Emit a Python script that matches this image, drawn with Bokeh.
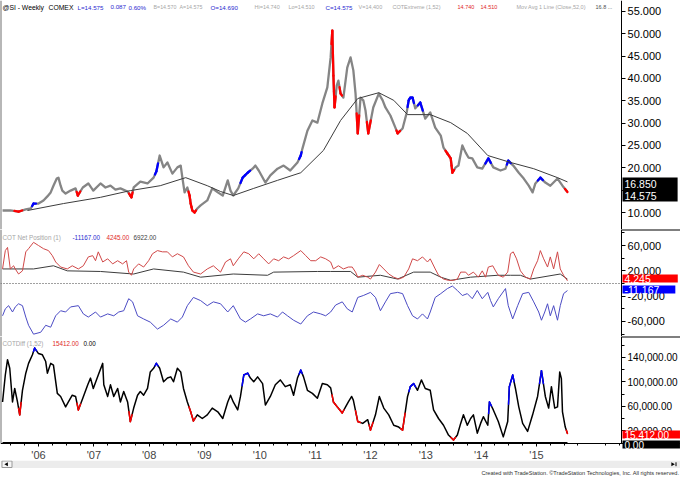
import math
from bokeh.plotting import figure
from bokeh.layouts import column
from bokeh.models import Range1d, FixedTicker, NumeralTickFormatter, Label, Span, LinearAxis
from bokeh.embed import file_html
from bokeh.resources import INLINE
from bokeh.core.properties import value

FONT = "Liberation Sans"

# ---------------- data (weekly @SI, decimal years) ----------------
price_t = [2005.35, 2005.49, 2005.64, 2005.77, 2005.86, 2005.91, 2006.00, 2006.09, 2006.16, 2006.22,
           2006.27, 2006.33, 2006.36, 2006.40, 2006.43, 2006.49, 2006.58, 2006.67, 2006.71, 2006.80,
           2006.90, 2006.99, 2007.12, 2007.21, 2007.30, 2007.39, 2007.48, 2007.61, 2007.66, 2007.68,
           2007.72, 2007.84, 2007.97, 2008.08, 2008.13, 2008.19, 2008.26, 2008.33, 2008.42, 2008.51,
           2008.57, 2008.60, 2008.64, 2008.69, 2008.73, 2008.75, 2008.78, 2008.82, 2008.87, 2008.93,
           2009.05, 2009.14, 2009.24, 2009.33, 2009.42, 2009.47, 2009.52, 2009.61, 2009.69, 2009.78,
           2009.87, 2009.92, 2009.98, 2010.10, 2010.19, 2010.32, 2010.43, 2010.55, 2010.68, 2010.74,
           2010.77, 2010.86, 2010.95, 2011.04, 2011.13, 2011.22, 2011.28, 2011.31, 2011.33, 2011.35,
           2011.39, 2011.42, 2011.46, 2011.51, 2011.58, 2011.64, 2011.69, 2011.73, 2011.77, 2011.82,
           2011.87, 2011.91, 2011.96, 2012.05, 2012.15, 2012.22, 2012.27, 2012.36, 2012.45, 2012.49,
           2012.58, 2012.65, 2012.69, 2012.72, 2012.76, 2012.81, 2012.90, 2012.99, 2013.08, 2013.17,
           2013.27, 2013.32, 2013.39, 2013.45, 2013.48, 2013.54, 2013.59, 2013.66, 2013.72, 2013.77,
           2013.84, 2013.93, 2014.02, 2014.13, 2014.22, 2014.35, 2014.44, 2014.49, 2014.58, 2014.68,
           2014.77, 2014.86, 2014.93, 2014.98, 2015.07, 2015.16, 2015.25, 2015.38, 2015.47, 2015.56]
price_close = [10.45, 10.5, 10.2, 10.7, 10.9, 12.0, 12.0, 12.7, 13.6, 14.5,
               16.0, 17.6, 17.8, 16.0, 14.9, 14.25, 14.9, 15.4, 13.8, 15.6,
               16.5, 14.9, 16.5, 15.6, 16.0, 15.1, 15.4, 14.7, 13.8, 13.4,
               15.6, 16.9, 16.5, 17.8, 19.2, 22.75, 20.1, 21.2, 18.7, 20.1,
               20.5, 17.8, 14.5, 15.6, 13.8, 12.0, 10.45, 10.0, 10.9, 11.6,
               12.7, 15.4, 14.5, 13.8, 17.2, 14.9, 13.8, 15.4, 17.8, 18.9,
               19.8, 20.5, 19.4, 16.7, 18.3, 19.8, 20.5, 19.4, 21.2, 22.75,
               24.3, 28.3, 30.6, 30.1, 34.4, 38.0, 44.7, 50.7, 40.6, 33.5,
               38.4, 39.5, 36.6, 35.7, 42.4, 44.7, 41.8, 36.6, 27.7, 35.7,
               35.1, 32.8, 27.7, 33.5, 36.6, 35.1, 33.5, 31.7, 29.0, 27.7,
               28.8, 32.1, 35.1, 35.7, 35.7, 33.3, 34.6, 31.0, 32.4, 29.0,
               27.2, 24.5, 23.2, 22.1, 18.9, 20.1, 20.5, 25.0, 23.4, 22.3,
               22.1, 20.1, 19.8, 22.1, 20.1, 19.4, 19.8, 21.6, 20.5, 18.9,
               17.6, 16.0, 14.5, 16.5, 17.8, 16.7, 16.0, 17.6, 16.0, 14.575]
# COTExtreme bar paint: g = none, r = red, b = blue
price_flag = ("ggrggb" "gggggggggggg" "r" "ggggggggg" "rr" "gggg" "b" "ggggggggg" "rrrr"
              "gggggggggg" "bb" "ggggggggg" "b" "ggggggg" "rrr" "gg" "r" "ggggg" "r" "ggg" "r"
              "gggggg" "r" "gg" "bbb" "g" "b" "ggggg" "rrr" "gggggggg" "b" "ggg" "b" "gggggg" "b"
              "gggg" "r")

ma_t = [2005.80, 2006.45, 2007.12, 2007.66, 2008.20, 2008.66, 2009.05, 2009.29, 2009.52, 2009.89,
        2010.32, 2010.74, 2011.15, 2011.46, 2011.77, 2012.15, 2012.42, 2012.67, 2013.08, 2013.45,
        2013.75, 2014.12, 2014.53, 2014.95, 2015.38, 2015.56]
ma_val = [10.45, 12.0, 13.4, 14.9, 16.0, 17.8, 16.0, 14.7, 13.8, 15.4,
          17.2, 18.9, 23.9, 30.6, 35.5, 36.8, 35.1, 31.9, 31.9, 30.1,
          27.7, 22.75, 21.2, 19.8, 17.8, 16.85]

net_red_t = [2005.35, 2005.40, 2005.44, 2005.49, 2005.55, 2005.58, 2005.64, 2005.71, 2005.77, 2005.82,
             2005.91, 2006.00, 2006.09, 2006.18, 2006.25, 2006.31, 2006.40, 2006.52, 2006.61, 2006.72,
             2006.81, 2006.90, 2006.98, 2007.03, 2007.08, 2007.16, 2007.25, 2007.34, 2007.43, 2007.52,
             2007.59, 2007.63, 2007.68, 2007.72, 2007.81, 2007.90, 2007.99, 2008.06, 2008.15, 2008.24,
             2008.33, 2008.42, 2008.51, 2008.62, 2008.71, 2008.80, 2008.93, 2009.05, 2009.16, 2009.29,
             2009.38, 2009.47, 2009.52, 2009.61, 2009.71, 2009.80, 2009.89, 2009.98, 2010.07, 2010.16,
             2010.25, 2010.34, 2010.43, 2010.52, 2010.61, 2010.74, 2010.83, 2010.92, 2011.01, 2011.10,
             2011.19, 2011.28, 2011.33, 2011.42, 2011.51, 2011.60, 2011.67, 2011.73, 2011.77, 2011.86,
             2011.95, 2012.00, 2012.09, 2012.16, 2012.24, 2012.33, 2012.42, 2012.51, 2012.60, 2012.69,
             2012.76, 2012.85, 2012.94, 2013.03, 2013.08, 2013.17, 2013.23, 2013.32, 2013.41, 2013.50,
             2013.57, 2013.63, 2013.72, 2013.77, 2013.86, 2013.95, 2014.02, 2014.08, 2014.13, 2014.21,
             2014.26, 2014.31, 2014.40, 2014.48, 2014.53, 2014.58, 2014.64, 2014.71, 2014.80, 2014.89,
             2014.95, 2015.02, 2015.07, 2015.13, 2015.20, 2015.25, 2015.31, 2015.38, 2015.43, 2015.49,
             2015.56]
net_red = [23000, 52000, 57000, 23000, 28000, 23000, 15000, 20000, 50000, 55000,
           65000, 60000, 55000, 52000, 44000, 34000, 26000, 23000, 28000, 23000,
           28000, 42000, 44000, 36000, 50000, 34000, 39000, 31000, 36000, 31000,
           36000, 18000, 13000, 23000, 31000, 26000, 36000, 47000, 52000, 50000,
           50000, 42000, 47000, 42000, 28000, 18000, 15000, 23000, 28000, 18000,
           34000, 39000, 28000, 39000, 50000, 47000, 39000, 47000, 39000, 31000,
           39000, 36000, 42000, 39000, 44000, 52000, 44000, 36000, 36000, 42000,
           39000, 34000, 23000, 28000, 23000, 26000, 26000, 18000, 10000, 13000,
           10000, 7000, 18000, 30000, 23000, 15000, 10000, 7000, 10000, 23000,
           39000, 36000, 42000, 34000, 39000, 23000, 13000, 7000, 5000, 5000,
           7000, 18000, 18000, 13000, 18000, 10000, 20000, 10000, 26000, 28000,
           20000, 13000, 10000, 18000, 47000, 50000, 39000, 20000, 10000, 7000,
           23000, 36000, 52000, 39000, 26000, 42000, 23000, 50000, 23000, 13000,
           4245]

net_black_t = [2005.35, 2005.91, 2006.27, 2006.52, 2007.12, 2007.72, 2008.08, 2008.62, 2008.93, 2009.52,
               2010.14, 2010.25, 2011.04, 2011.28, 2011.64, 2011.77, 2012.18, 2012.49, 2012.78, 2013.08,
               2013.27, 2013.45, 2013.81, 2014.30, 2014.53, 2014.71, 2014.89, 2015.43, 2015.56]
net_black = [23000, 23000, 28000, 20000, 19000, 15000, 23000, 18000, 10000, 15000,
             13000, 18000, 19000, 19000, 19000, 10000, 13000, 7000, 18000, 18000,
             10000, 5000, 10000, 13000, 13000, 13000, 7000, 15000, 6922]

net_blue_t = [2005.35, 2005.40, 2005.46, 2005.53, 2005.58, 2005.64, 2005.71, 2005.77, 2005.82, 2005.91,
              2006.04, 2006.13, 2006.22, 2006.31, 2006.40, 2006.49, 2006.58, 2006.72, 2006.81, 2006.90,
              2007.03, 2007.12, 2007.25, 2007.36, 2007.45, 2007.54, 2007.63, 2007.70, 2007.79, 2007.90,
              2008.02, 2008.15, 2008.26, 2008.39, 2008.51, 2008.60, 2008.69, 2008.80, 2008.93, 2009.05,
              2009.16, 2009.29, 2009.42, 2009.52, 2009.65, 2009.74, 2009.83, 2009.96, 2010.07, 2010.19,
              2010.32, 2010.41, 2010.50, 2010.61, 2010.74, 2010.86, 2010.97, 2011.10, 2011.19, 2011.28,
              2011.37, 2011.49, 2011.58, 2011.67, 2011.77, 2011.87, 2012.00, 2012.09, 2012.18, 2012.27,
              2012.36, 2012.49, 2012.58, 2012.67, 2012.76, 2012.85, 2012.94, 2013.03, 2013.08, 2013.17,
              2013.27, 2013.39, 2013.48, 2013.57, 2013.66, 2013.75, 2013.84, 2013.93, 2014.02, 2014.12,
              2014.17, 2014.22, 2014.31, 2014.44, 2014.49, 2014.57, 2014.66, 2014.75, 2014.86, 2014.95,
              2015.04, 2015.09, 2015.15, 2015.20, 2015.25, 2015.31, 2015.38, 2015.43, 2015.49, 2015.56]
net_blue = [-51000, -40000, -35000, -45000, -37000, -32000, -35000, -53000, -66000, -80000,
            -77000, -66000, -69000, -51000, -43000, -45000, -37000, -35000, -48000, -53000,
            -45000, -53000, -48000, -51000, -45000, -43000, -24000, -29000, -51000, -56000,
            -61000, -72000, -66000, -56000, -61000, -53000, -35000, -22000, -27000, -35000,
            -29000, -32000, -45000, -35000, -56000, -61000, -56000, -48000, -51000, -48000,
            -53000, -45000, -51000, -58000, -64000, -51000, -45000, -48000, -51000, -45000,
            -34000, -29000, -40000, -45000, -22000, -19000, -14000, -22000, -43000, -29000,
            -16000, -14000, -16000, -35000, -51000, -56000, -48000, -56000, -45000, -22000,
            -16000, -8000, -4000, -11000, -19000, -16000, -24000, -11000, -24000, -14000,
            -27000, -37000, -24000, -8000, -35000, -56000, -35000, -16000, -14000, -29000,
            -45000, -58000, -45000, -32000, -51000, -35000, -58000, -35000, -16000, -11167]

diff_t = [2005.35, 2005.40, 2005.44, 2005.48, 2005.53, 2005.57, 2005.62, 2005.66, 2005.71, 2005.77,
          2005.82, 2005.89, 2005.93, 2006.00, 2006.07, 2006.13, 2006.16, 2006.22, 2006.27, 2006.34,
          2006.40, 2006.49, 2006.54, 2006.61, 2006.67, 2006.72, 2006.80, 2006.89, 2006.94, 2006.99,
          2007.08, 2007.16, 2007.18, 2007.25, 2007.30, 2007.36, 2007.43, 2007.48, 2007.54, 2007.61,
          2007.66, 2007.72, 2007.79, 2007.84, 2007.90, 2007.97, 2008.02, 2008.08, 2008.13, 2008.19,
          2008.26, 2008.33, 2008.39, 2008.44, 2008.51, 2008.57, 2008.62, 2008.69, 2008.75, 2008.80,
          2008.87, 2008.96, 2009.05, 2009.14, 2009.24, 2009.33, 2009.42, 2009.47, 2009.52, 2009.60,
          2009.65, 2009.71, 2009.78, 2009.83, 2009.89, 2009.96, 2010.05, 2010.10, 2010.19, 2010.28,
          2010.37, 2010.46, 2010.55, 2010.61, 2010.68, 2010.74, 2010.79, 2010.86, 2010.95, 2011.04,
          2011.13, 2011.22, 2011.28, 2011.33, 2011.40, 2011.49, 2011.55, 2011.60, 2011.66, 2011.69,
          2011.77, 2011.86, 2011.95, 2012.00, 2012.09, 2012.16, 2012.24, 2012.33, 2012.42, 2012.51,
          2012.58, 2012.67, 2012.72, 2012.78, 2012.85, 2012.92, 2012.99, 2013.08, 2013.14, 2013.23,
          2013.32, 2013.41, 2013.50, 2013.57, 2013.63, 2013.68, 2013.75, 2013.81, 2013.86, 2013.93,
          2013.99, 2014.04, 2014.12, 2014.15, 2014.22, 2014.31, 2014.40, 2014.48, 2014.51, 2014.57,
          2014.62, 2014.68, 2014.75, 2014.84, 2014.93, 2015.02, 2015.09, 2015.16, 2015.22, 2015.27,
          2015.33, 2015.38, 2015.42, 2015.45, 2015.47, 2015.52, 2015.56]
diff_val = [67000, 111000, 136000, 122000, 67000, 89000, 67000, 46000, 86000, 114000,
            130000, 144000, 155000, 146000, 144000, 133000, 114000, 130000, 127000, 81000,
            76000, 59000, 67000, 78000, 76000, 54000, 73000, 95000, 106000, 89000,
            111000, 130000, 95000, 76000, 95000, 76000, 89000, 67000, 84000, 67000,
            35000, 57000, 78000, 84000, 78000, 89000, 116000, 122000, 130000, 122000,
            100000, 106000, 108000, 100000, 122000, 116000, 89000, 67000, 51000, 36000,
            46000, 40000, 46000, 57000, 51000, 40000, 67000, 78000, 67000, 54000,
            76000, 111000, 114000, 106000, 100000, 108000, 97000, 62000, 76000, 95000,
            103000, 92000, 95000, 78000, 106000, 119000, 108000, 86000, 81000, 73000,
            97000, 95000, 90000, 67000, 59000, 49000, 59000, 67000, 76000, 70000,
            35000, 32000, 38000, 21000, 46000, 76000, 57000, 46000, 29000, 26000,
            21000, 76000, 92000, 97000, 86000, 103000, 89000, 86000, 54000, 40000,
            29000, 13000, 5000, 13000, 32000, 46000, 29000, 40000, 46000, 16000,
            32000, 43000, 29000, 67000, 54000, 35000, 10000, 35000, 92000, 111000,
            89000, 59000, 32000, 19000, 46000, 76000, 118000, 76000, 57000, 92000,
            57000, 59000, 116000, 105000, 51000, 26000, 15412]
diff_flag = ("kkkkkkk" "r" "kkkk" "b" "kkkkkkkkkkkk" "r" "kkkkkkkkkkkkkk" "r" "kkkkkkk" "b"
             "kkkkkkkkk" "rr" "kkkkkkkkkkk" "bb" "kkkkkkkkkkkk" "b" "kkkkkkk" "rrr" "kkkk" "r"
             "kk" "r" "kkkkkk" "r" "k" "bb" "kkkkkkkk" "r" "kkkkkkkkkk" "b" "kkkk" "bb" "kkkkkk"
             "b" "kkkkkkkkk" "r")
diff_zero = [0.0, 0.0]

year_ticks = [2006, 2007, 2008, 2009, 2010, 2011, 2012, 2013, 2014, 2015]
year_labels = ["'06", "'07", "'08", "'09", "'10", "'11", "'12", "'13", "'14", "'15"]
price_ticks = [10, 15, 20, 25, 30, 35, 40, 45, 50, 55]
net_ticks = [-60000, -20000, 20000, 60000]
net_minor = [-80000, -40000, 0, 40000, 80000]
diff_ticks = [20000, 60000, 100000, 140000]
diff_minor = [40000, 80000, 120000, 160000]

# ---------------- styling ----------------
BAR_GRAY = "#858585"
MA_COL = "#3c3c3c"
RED = "#ff0000"
BLUE = "#0000ff"
NET_RED = "#d04848"
NET_BLUE = "#4b4bc4"
NET_BLACK = "#3c3c3c"
HDR_BLUE = "#2a2ad0"
HDR_GRAY = "#a6a6a6"
HDR_RED = "#e02828"

X0 = 2005.313            # left edge of the chart
X_AX = 2016.537          # where the price scale sits
X1 = 2017.603            # right edge of the window
xr = Range1d(X0, X1)


def fix_flags(flags, n, fill):
    return (flags + fill * n)[:n]


price_flag = fix_flags(price_flag, len(price_t), "g")
diff_flag = fix_flags(diff_flag, len(diff_t), "k")


def make_fig(h, yrange, ticks, minor, fmt, label_size="11px", y_bounds="auto"):
    p = figure(width=680, height=h, x_range=xr, y_range=yrange, title=None,
               toolbar_location=None, output_backend="svg",
               x_axis_location=None, y_axis_location=None, min_border=0)
    p.xgrid.visible = False
    p.ygrid.visible = False
    p.outline_line_color = None
    p.background_fill_color = "white"
    p.border_fill_color = "white"
    ax = LinearAxis(fixed_location=X_AX, bounds=y_bounds,
                    ticker=FixedTicker(ticks=ticks, minor_ticks=minor),
                    formatter=NumeralTickFormatter(format=fmt))
    ax.axis_line_color = "black"
    ax.major_tick_out = 4
    ax.major_tick_in = 0
    ax.minor_tick_out = 3
    ax.minor_tick_in = 0
    ax.major_tick_line_color = "black"
    ax.minor_tick_line_color = "black"
    ax.major_label_text_font = FONT
    ax.major_label_text_font_size = label_size
    ax.major_label_text_color = "black"
    ax.major_label_standoff = 2
    p.add_layout(ax, "right")
    return p


def colored_segments(p, t, v, flags, cmap, width):
    # paint each flagged bar: half way to the previous bar and half way to the next one
    x0, y0, x1, y1, cols = [], [], [], [], []
    n = len(t)
    for i in range(n):
        f = flags[i]
        if f not in cmap:
            continue
        if i > 0:
            x0.append((t[i - 1] + t[i]) / 2); y0.append((v[i - 1] + v[i]) / 2)
            x1.append(t[i]); y1.append(v[i]); cols.append(cmap[f])
        if i < n - 1:
            x0.append(t[i]); y0.append(v[i])
            x1.append((t[i] + t[i + 1]) / 2); y1.append((v[i] + v[i + 1]) / 2); cols.append(cmap[f])
    p.segment(x0=x0, y0=y0, x1=x1, y1=y1, line_color=cols, line_width=width, line_cap="round")


def header(p, y, items):
    for x, txt, col, size in items:
        p.add_layout(Label(x=x, y=y, x_units="screen", y_units="screen", text=txt,
                           text_color=col, text_font=FONT, text_font_size=size,
                           text_baseline="middle", text_align="left"))


def value_box(p, txt, y_top, bg, size, pad_right):
    kw = dict(x=622, y=y_top, x_units="screen", y_units="screen", text=txt,
              text_color="white", text_font=FONT, text_font_size=size,
              text_align="left", text_baseline="top", text_line_height=1.0,
              background_fill_color=bg, background_fill_alpha=1.0)
    try:
        lab = Label(padding=dict(left=2, right=pad_right, top=0, bottom=0), **kw)
    except Exception:
        lab = Label(**kw)
    p.add_layout(lab)


def separator(p, y):
    p.segment(x0=[X_AX], y0=[y], x1=[X1], y1=[y], line_color="black", line_width=2)


# ---------------- panel 1: price ----------------
p1 = make_fig(229, Range1d(6.2, 57.43), price_ticks, [], "0.000")
p1.add_layout(Span(location=X0, dimension="height", line_color="#707070", line_width=2))
p1.line(price_t, price_close, line_color=BAR_GRAY, line_width=2.3, line_join="round")
colored_segments(p1, price_t, price_close, price_flag, {"r": RED, "b": BLUE}, 2.3)
p1.line(ma_t, ma_val, line_color=MA_COL, line_width=1)
header(p1, 222.5, [
    (2, "@SI - Weekly", "#000000", "6.8px"),
    (48, "COMEX", "#000000", "6.8px"),
    (77, "L=14.575", HDR_BLUE, "6.2px"),
    (110, "0.087", HDR_BLUE, "6.2px"),
    (128, "0.60%", HDR_BLUE, "6.2px"),
    (153, "B=14.570", HDR_GRAY, "5.3px"),
    (179, "A=14.575", HDR_GRAY, "5.3px"),
    (210, "O=14.690", HDR_BLUE, "6.2px"),
    (254, "Hi=14.740", HDR_GRAY, "5.5px"),
    (288, "Lo=14.510", HDR_GRAY, "5.5px"),
    (325, "C=14.575", HDR_BLUE, "6.2px"),
    (358, "V=14,400", HDR_GRAY, "5.5px"),
    (392, "COTExtreme (1,52)", HDR_GRAY, "5.5px"),
    (457, "14.740", HDR_RED, "5.5px"),
    (480, "14.510", HDR_RED, "5.5px"),
    (516, "Mov Avg 1 Line (Close,52,0)", HDR_GRAY, "5.5px"),
    (595, "16.8 ...", "#505050", "5.5px"),
])
value_box(p1, "16.850\n14.575", 52, "black", "10.5px", 21)

# ---------------- panel 2: COT net position ----------------
p2 = make_fig(107, Range1d(-83700, 85300), net_ticks, net_minor, "0,0")
p2.add_layout(Span(location=X0, dimension="height", line_color="#707070", line_width=2))
p2.segment(x0=[X0], y0=[0], x1=[X_AX], y1=[0], line_color="#404040", line_width=1, line_dash="1 2")
p2.line(net_black_t, net_black, line_color=NET_BLACK, line_width=1)
p2.line(net_red_t, net_red, line_color=NET_RED, line_width=1)
p2.line(net_blue_t, net_blue, line_color=NET_BLUE, line_width=1)
separator(p2, 85300)
header(p2, 99, [
    (2, "COT Net Position (1)", HDR_GRAY, "6.3px"),
    (72, "-11167.00", HDR_BLUE, "6.3px"),
    (106, "4245.00", HDR_RED, "6.3px"),
    (133, "6922.00", "#404040", "6.3px"),
])
value_box(p2, "4,245", 62, "#ff0000", "10.5px", 27)
value_box(p2, "-11,167", 51, "#0000ff", "10.5px", 16)

# ---------------- panel 3: COTDiff (frame runs down to the scroll bar) ----------------
p3 = make_fig(124, Range1d(-28570, 173880), diff_ticks, diff_minor, "0,0.00",
              label_size="10px", y_bounds=(0, 173880))
xa = LinearAxis(fixed_location=0,
                ticker=FixedTicker(ticks=year_ticks,
                                   minor_ticks=[y + q for y in range(2005, 2017)
                                                for q in (0.25, 0.5, 0.75) if X0 < y + q < X_AX]))
xa.major_label_overrides = {t: lab for t, lab in zip(year_ticks, year_labels)}
xa.axis_line_color = "black"
xa.major_tick_out = 3
xa.major_tick_in = 0
xa.minor_tick_out = 2
xa.minor_tick_in = 0
xa.major_label_text_font = FONT
xa.major_label_text_font_size = "11px"
xa.major_label_standoff = 3
p3.add_layout(xa, "below")
p3.segment(x0=[X0], y0=[0], x1=[X0], y1=[173880], line_color="#707070", line_width=2)
p3.line([diff_t[0], diff_t[-1]], diff_zero, line_color="black", line_width=2)
p3.line(diff_t, diff_val, line_color="black", line_width=1.5, line_join="round")
colored_segments(p3, diff_t, diff_val, diff_flag, {"r": RED, "b": BLUE}, 1.5)
separator(p3, 173880)
header(p3, 117, [
    (2, "COTDiff (1,52)", HDR_GRAY, "6.3px"),
    (52, "15412.00", HDR_RED, "6.3px"),
    (83, "0.00", "#000000", "6.3px"),
])
value_box(p3, "15,412.00", 30, "#ff0000", "10px", 11)
value_box(p3, "0.00", 20, "black", "10px", 36)

# ---------------- footer: scroll bar + copyright ----------------
p4 = figure(width=680, height=17, x_range=Range1d(0, 680), y_range=Range1d(0, 17), title=None,
            toolbar_location=None, output_backend="svg", x_axis_location=None, y_axis_location=None,
            min_border=0)
p4.xgrid.visible = False
p4.ygrid.visible = False
p4.outline_line_color = None
p4.quad(left=[0], right=[680], bottom=[9.5], top=[17], fill_color="#ececec", line_color=None)
p4.quad(left=[1.5, 667.5], right=[11.5, 678.5], bottom=[10], top=[16.5], fill_color="#f6f6f6",
        line_color="#9a9a9a", line_width=1)
p4.scatter(x=[6.2], y=[13.2], marker="triangle", size=4, angle=math.pi / 2, fill_color="black", line_color=None)
p4.scatter(x=[672], y=[13.2], marker="triangle", size=4, angle=-math.pi / 2, fill_color="black", line_color=None)
p4.segment(x0=[675.5], y0=[11.3], x1=[675.5], y1=[15.2], line_color="black", line_width=1)
p4.text(x=[679], y=[4.2], text=["Created with TradeStation. \u00a9TradeStation Technologies, Inc. All rights reserved."],
        text_align="right", text_baseline="middle", text_font=value(FONT), text_font_size="5.6px",
        text_color="#303030")

layout = column(p1, p2, p3, p4, spacing=0)
open("out.html", "w").write(file_html(layout, INLINE))
